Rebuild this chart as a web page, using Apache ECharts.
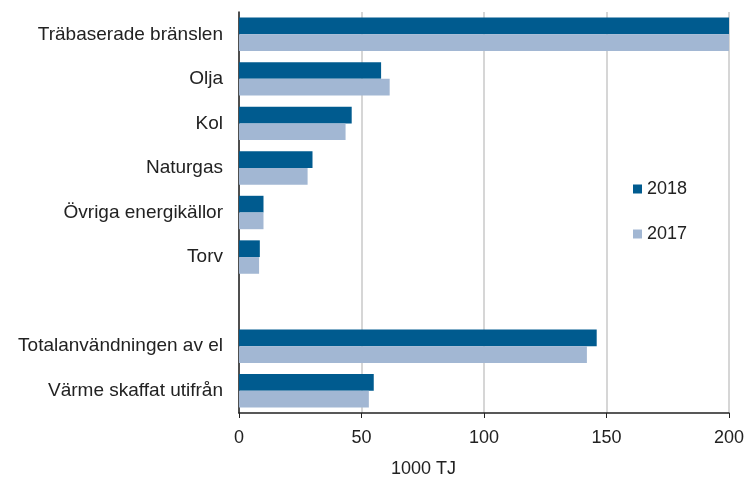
<!DOCTYPE html>
<html>
<head>
<meta charset="utf-8">
<script src="https://cdn.jsdelivr.net/npm/echarts@6/dist/echarts.min.js"></script>
<style>
  html, body { margin: 0; padding: 0; background: #fff; }
  #chart { width: 748px; height: 482px; }
</style>
</head>
<body>
<div id="chart"></div>
<script>
// kategorier uppifrån och ned, tom rad som avdelare
const categories = [
  'Träbaserade bränslen',
  'Olja',
  'Kol',
  'Naturgas',
  'Övriga energikällor',
  'Torv',
  '',
  'Totalanvändningen av el',
  'Värme skaffat utifrån'
];
const values2018 = [235, 58, 46, 30, 10, 8.5, null, 146, 55];
const values2017 = [232, 61.5, 43.5, 28, 10, 8.2, null, 142, 53];
const xTicks = [0, 50, 100, 150, 200];

const chart = echarts.init(document.getElementById('chart'));
const font = 'Liberation Sans, Arial, sans-serif';

chart.setOption({
  animation: false,
  color: ['#005b8f', '#a2b7d3'],
  grid: { left: 239, right: 19, top: 12, bottom: 69, containLabel: false },
  legend: {
    orient: 'vertical',
    left: 628,
    top: 175,
    itemWidth: 9,
    itemHeight: 9,
    itemGap: 27,
    icon: 'rect',
    data: ['2018', '2017'],
    textStyle: { fontFamily: font, fontSize: 18, color: '#222' }
  },
  xAxis: {
    type: 'value',
    min: xTicks[0],
    max: xTicks[xTicks.length - 1],
    interval: 50,
    axisLine: { show: true, lineStyle: { color: '#222', width: 1.5 } },
    axisTick: { show: true, length: 5, lineStyle: { color: '#222' } },
    axisLabel: { fontFamily: font, fontSize: 18, color: '#222', margin: 16 },
    splitLine: { show: true, lineStyle: { color: '#c8c8c8', width: 1.5 } }
  },
  yAxis: {
    type: 'category',
    data: categories,
    inverse: true,
    axisLine: { show: true, lineStyle: { color: '#222', width: 1.5 } },
    axisTick: { show: false },
    axisLabel: { fontFamily: font, fontSize: 19, color: '#222', margin: 16 }
  },
  graphic: [{
    type: 'text',
    left: 391,
    top: 460,
    style: { text: '1000 TJ', font: '18px ' + font, fill: '#222' }
  }],
  series: [
    {
      name: '2018',
      type: 'bar',
      data: values2018,
      barGap: '0%',
      barCategoryGap: '25%',
      clip: true
    },
    {
      name: '2017',
      type: 'bar',
      data: values2017,
      clip: true
    }
  ]
});
</script>
</body>
</html>
